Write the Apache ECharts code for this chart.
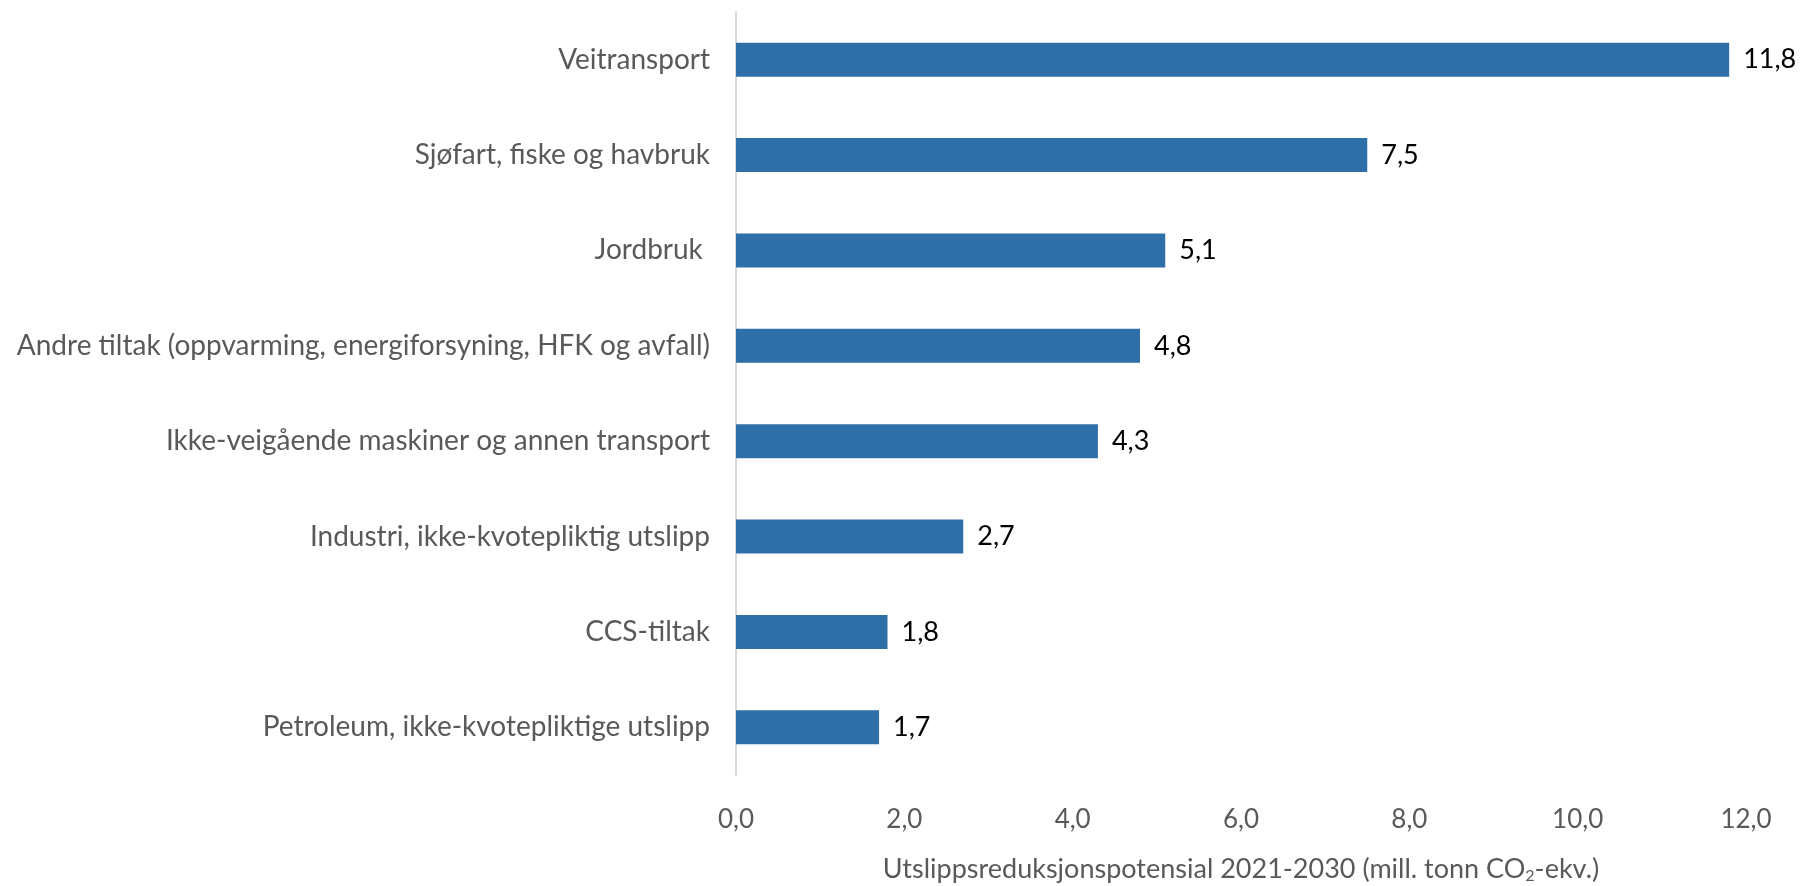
<!DOCTYPE html>
<html>
<head>
<meta charset="utf-8">
<script src="https://cdn.jsdelivr.net/npm/echarts@6/dist/echarts.min.js"></script>
<style>
  html, body { margin: 0; padding: 0; background: #fff; }
  #chart { width: 1806px; height: 886px; }
</style>
</head>
<body>
<div id="chart"></div>
<script>
// kategorier, ovenfra og ned
const categories = [
  'Veitransport',
  'Sjøfart, fiske og havbruk',
  'Jordbruk ',
  'Andre tiltak (oppvarming, energiforsyning, HFK og avfall)',
  'Ikke-veigående maskiner og annen transport',
  'Industri, ikke-kvotepliktig utslipp',
  'CCS-tiltak',
  'Petroleum, ikke-kvotepliktige utslipp'
];
const values = [11.8, 7.5, 5.1, 4.8, 4.3, 2.7, 1.8, 1.7];
const xTicks = [0, 2, 4, 6, 8, 10, 12];

const fmt = v => v.toFixed(1).replace('.', ',');
const FONT = 'Lato, "Open Sans", sans-serif';

const chart = echarts.init(document.getElementById('chart'));
chart.setOption({
  animation: false,
  grid: { left: 736, right: 60, top: 12, bottom: 111, outerBoundsMode: 'none' },
  xAxis: {
    type: 'value',
    min: xTicks[0],
    max: xTicks[xTicks.length - 1],
    interval: 2,
    axisLine: { show: false },
    axisTick: { show: false },
    splitLine: { show: false },
    axisLabel: {
      formatter: fmt,
      color: '#595959',
      fontSize: 26,
      fontFamily: FONT,
      margin: 32
    },
    name: 'Utslippsreduksjonspotensial 2021-2030 (mill. tonn CO{sub|2}-ekv.)',
    nameLocation: 'middle',
    nameGap: 79,
    nameTextStyle: {
      color: '#595959',
      fontSize: 27,
      fontFamily: FONT,
      rich: {
        sub: { fontSize: 16, color: '#595959', fontFamily: FONT, padding: [14, 0, 0, 0] }
      }
    }
  },
  yAxis: {
    type: 'category',
    data: categories,
    inverse: true,
    axisTick: { show: false },
    axisLine: { lineStyle: { color: '#d9d9d9', width: 2 } },
    axisLabel: {
      color: '#595959',
      fontSize: 28,
      fontFamily: FONT,
      margin: 26
    }
  },
  series: [{
    type: 'bar',
    data: values,
    barWidth: 34,
    itemStyle: { color: '#2e6fa8' },
    label: {
      show: true,
      position: 'right',
      distance: 14,
      color: '#000',
      fontSize: 27,
      fontFamily: FONT,
      formatter: p => fmt(p.value)
    }
  }]
});
</script>
</body>
</html>
